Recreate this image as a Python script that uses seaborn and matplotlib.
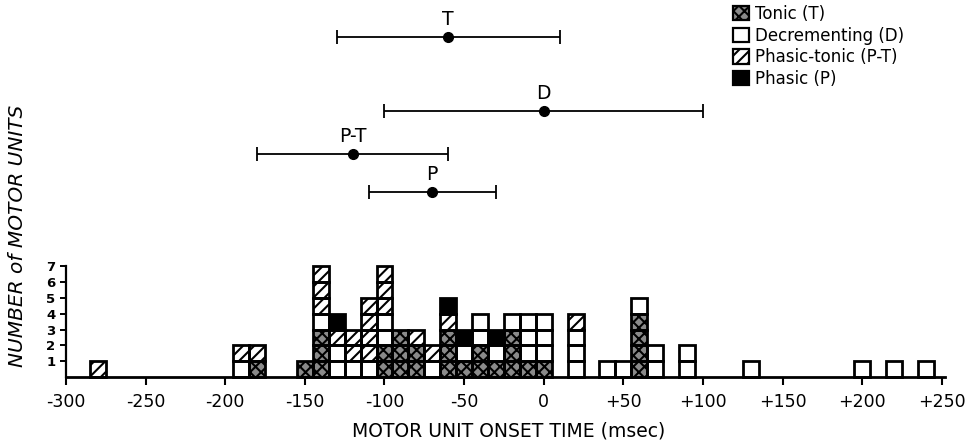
import numpy as np
import pandas as pd
import matplotlib
matplotlib.use("Agg")
import matplotlib.pyplot as plt
from matplotlib.patches import Patch
import seaborn as sns

# ---------------------------------------------------------------- data ---
# onset-time bins (msec, bin centres) that hold at least one motor unit
bin_centers = [-280, -190, -180, -150, -140, -130, -120, -110, -100, -90,
               -80, -70, -60, -50, -40, -30, -20, -10, 0, 20,
               40, 50, 60, 70, 90, 130, 200, 220, 240]
# number of units of each firing type in every bin
tonic_n   = [0, 0, 1, 1, 3, 0, 0, 0, 2, 3, 2, 0, 3, 1, 2, 1, 3, 1, 1, 0,
             0, 0, 4, 0, 0, 0, 0, 0, 0]
decrem_n  = [0, 1, 0, 0, 1, 2, 1, 1, 2, 0, 0, 1, 0, 1, 2, 1, 1, 3, 3, 3,
             1, 1, 1, 2, 2, 1, 1, 1, 1]
phtonic_n = [1, 1, 1, 0, 3, 1, 2, 4, 3, 0, 1, 1, 1, 0, 0, 0, 0, 0, 0, 1,
             0, 0, 0, 0, 0, 0, 0, 0, 0]
phasic_n  = [0, 0, 0, 0, 0, 1, 0, 0, 0, 0, 0, 0, 1, 1, 0, 1, 0, 0, 0, 0,
             0, 0, 0, 0, 0, 0, 0, 0, 0]

unit_types  = ["T", "D", "P-T", "P"]
type_labels = ["Tonic (T)", "Decrementing (D)", "Phasic-tonic (P-T)", "Phasic (P)"]

# mean onset time and range for each type
mean_onset = [-60, 0, -120, -70]
range_low  = [-130, -100, -180, -110]
range_high = [10, 100, -60, -30]

xtick_values = [-300, -250, -200, -150, -100, -50, 0, 50, 100, 150, 200, 250]
xtick_labels = ["-300", "-250", "-200", "-150", "-100", "-50", "0",
                "+50", "+100", "+150", "+200", "+250"]
ytick_values = [1, 2, 3, 4, 5, 6, 7]

# ------------------------------------------------------------- styling ---
sns.set_theme(style="ticks")
plt.rcParams["font.family"] = ["DejaVu Sans"]
plt.rcParams["hatch.linewidth"] = 1.5
for key in ("text.color", "axes.labelcolor", "xtick.color", "ytick.color",
            "axes.edgecolor"):
    plt.rcParams[key] = "black"

fill_colors = {"T": "#8a8a8a", "D": "white", "P-T": "white", "P": "black"}
hatches     = {"T": "xxx", "D": "", "P-T": "///", "P": ""}

W, H = 970, 446
px_per_unit = 15.8
bar_rows_px = [36.7, 111, 154, 191.7]   # vertical placement of the range bars

# one row per motor unit, stacked T, D, P-T, P from the bottom of each bin
counts = {"T": tonic_n, "D": decrem_n, "P-T": phtonic_n, "P": phasic_n}
rows = []
for i, c in enumerate(bin_centers):
    for t in unit_types:
        rows += [(c, t)] * counts[t][i]
units = pd.DataFrame(rows, columns=["onset", "type"])
units["level"] = units.groupby("onset").cumcount()

fig = plt.figure(figsize=(W / 100, H / 100), dpi=100)
ax = fig.add_axes([66 / W, 69 / H, 879 / W, 7.1 * px_per_unit / H])
ax_top = fig.add_axes([66 / W, (H - 210) / H, 879 / W, 210 / H], sharex=ax)

# stacked histogram fills (seaborn stacks the first hue level on top)
sns.histplot(data=units, x="onset", hue="type", hue_order=unit_types[::-1],
             multiple="stack", binwidth=10, binrange=(-285, 245),
             palette=fill_colors, linewidth=0, alpha=1, legend=False, ax=ax)

# outline and pattern each unit as its own square
for t in unit_types:
    sub = units[units["type"] == t]
    ax.bar(sub["onset"], 1, width=10, bottom=sub["level"], fill=False,
           hatch=hatches[t], edgecolor="black", linewidth=2.0, clip_on=False)

ax.set_xlim(-300, 252)
ax.set_ylim(0, 7.1)
ax.set_xticks(xtick_values)
ax.set_xticklabels(xtick_labels, fontsize=12.5)
ax.set_yticks(ytick_values)
ax.set_yticklabels([str(v) for v in ytick_values], fontsize=9.5, fontweight="bold")
ax.tick_params(axis="x", direction="out", length=6, width=1.5, pad=5.5, color="black")
ax.tick_params(axis="y", direction="out", length=4.5, width=1.4, pad=3, color="black")
ax.set_xlabel("")
ax.set_ylabel("")
for side in ("top", "right"):
    ax.spines[side].set_visible(False)
ax.spines["left"].set_bounds(0, 7)
ax.spines["left"].set_linewidth(1.6)
ax.spines["bottom"].set_linewidth(2)

# mean and range of onset for each type
xerr = [np.subtract(mean_onset, range_low), np.subtract(range_high, mean_onset)]
ax_top.errorbar(mean_onset, bar_rows_px, xerr=xerr, fmt="o", color="black",
                ms=7, elinewidth=1.3, capsize=5, capthick=1.3)
for m, yv, t in zip(mean_onset, bar_rows_px, unit_types):
    ax_top.annotate(t, (m, yv), xytext=(0, 8.5), textcoords="offset points",
                    ha="center", va="baseline", fontsize=13.5)
ax_top.set_ylim(210, 0)
ax_top.axis("off")

fig.text(18 / W, 1 - 236 / H, "NUMBER of MOTOR UNITS", rotation=90,
         style="italic", ha="center", va="center", fontsize=14.5)
fig.text(509 / W, 1 - 431 / H, "MOTOR UNIT ONSET TIME (msec)",
         ha="center", va="center", fontsize=13.5)

handles = [Patch(facecolor=fill_colors[t], edgecolor="black", hatch=hatches[t],
                 linewidth=1.6) for t in unit_types]
fig.legend(handles, type_labels, loc="upper left", bbox_to_anchor=(733 / W, 1 - 5 / H),
           frameon=False, fontsize=12, handlelength=0.95, handleheight=0.95,
           handletextpad=0.35, labelspacing=0.22, borderpad=0, borderaxespad=0)

fig.savefig("out.png", dpi=100)
